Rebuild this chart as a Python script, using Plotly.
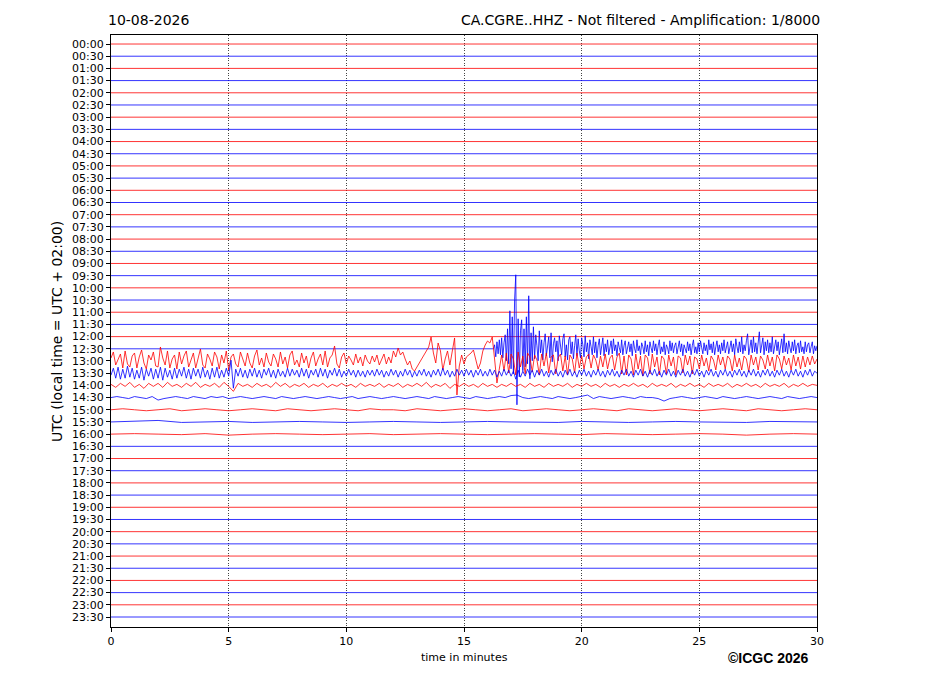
import plotly.graph_objects as go

TIME_LABELS = ["00:00", "00:30", "01:00", "01:30", "02:00", "02:30", "03:00", "03:30",
               "04:00", "04:30", "05:00", "05:30", "06:00", "06:30", "07:00", "07:30",
               "08:00", "08:30", "09:00", "09:30", "10:00", "10:30", "11:00", "11:30",
               "12:00", "12:30", "13:00", "13:30", "14:00", "14:30", "15:00", "15:30",
               "16:00", "16:30", "17:00", "17:30", "18:00", "18:30", "19:00", "19:30",
               "20:00", "20:30", "21:00", "21:30", "22:00", "22:30", "23:00", "23:30"]

FLAT = [0, 0]

# 12:30 - quiet until ~16.3 min, then the event (sampled every 0.05 min from 16.0)
B1230 = [0, 0, 0, 0, 0, 0, 4, -8, 7, -5,
         9, -6, 11, -9, 6, 14, -12, 20, -15, 38,
         -20, 32, -25, 49, 74, -56, 30, -28, 18, 29,
         -22, 20, -18, 32, -15, 53, -30, 16, -12, 22,
         -10, 14, 3, -12, 18, -4, 9, -11, 6, 15,
         -7, 2, 12, -9, 16, -13, 5, 11, -3, 8,
         -12, 13, 1, -6, 10, 15, -8, 4, -11, 9,
         12, -5, 7, -10, 3, 14, -7, 10, -2, -9,
         11, 4, -8, 13, -3, 6, -10, 9, 2, -6,
         12, -4, 7, -9, 3, 10, -6, 1, 11, -7,
         5, -3, 9, -6, 2, 8, -5, 10, -2, 4,
         -7, 7, 1, -4, 9, -6, 3, 8, -5, 2,
         7, -3, 5, -7, 8, 0, -4, 9, -2, 3,
         -6, 6, 2, -5, 8, -3, 4, -7, 7, 1,
         -4, 8, -2, 5, -6, 3, 9, -5, 2, -3,
         7, -6, 4, 1, -5, 8, -2, 6, -4, 3,
         6, -5, 2, 8, -3, 5, -7, 4, 0, -4,
         7, -2, 5, -6, 3, 9, -4, 2, -5, 6,
         -3, 8, 1, -5, 6, -2, 4, -6, 9, -1,
         5, -4, 7, -6, 2, 8, -3, 4, -5, 6,
         -2, 9, -4, 3, 7, -5, 1, 8, -3, 5,
         -6, 10, 2, -4, 7, -3, 12, -5, 4, -2,
         8, 15, -6, 5, 9, -4, 12, -3, 6, -5,
         10, 17, -4, 3, 11, -6, 7, -2, 9, -4,
         6, -3, 12, -5, 4, 9, -2, 7, -6, 3,
         10, -4, 15, -3, 6, -5, 8, 1, -4, 7,
         -2, 9, -5, 3, 6, -4, 8, -3, 2, -5,
         7, -3, 4, 6, -4, 2, 7, -5, 3, -2,
         3]

# 13:00 - every 0.1 min
R1300 = [3, 9, -4, 2, 7, -7, 10, -3, -6, 5,
         8, -7, 4, 11, -2, -8, 6, 1, 9, -5,
         -6, 14, 3, -4, 10, -7, 2, 6, -8, 9,
         -3, 5, 10, -6, 1, 8, -7, 4, 12, -4,
         -7, 7, 2, -5, 9, 4, -8, 6, -2, 10,
         -9, 4, 7, -3, -6, 9, 1, -5, 8, -2,
         -7, 5, 11, -4, 3, -6, 8, -1, -5, 7,
         2, -6, 9, -3, 4, -7, 6, 10, -4, 1,
         -6, 8, -2, 5, -7, 3, 9, -5, 2, 7,
         -4, 10, -6, 3, 6, 15, -3, -7, 4, 8,
         -3, 5, 1, -4, 7, -2, 4, -5, 6, 0,
         -3, 5, -1, 6, -4, 2, 7, -3, 4, -2,
         10, 4, 13, 6, 9, 2, -4, 0, -8, -10,
         -6, -2, 3, 6, 10, 14, 24, 8, -2, 18,
         10, -9, 2, 10, -4, 8, 23, -34, -5, 6,
         -3, 4, 6, 8, 11, 2, -8, -2, 10, 16,
         20, 18, 24, 2, -22, -8, 6, -10, 8, -12,
         7, 2, -14, 9, -6, 5, -13, 8, 4, -11,
         6, 1, -14, 7, -5, 8, -12, 4, 6, -13,
         3, 7, -10, 5, -14, 6, 2, -12, 8, -7,
         5, -8, 4, 7, -7, 6, 1, -9, 5, -6,
         7, -8, 3, 6, -9, 4, 8, -13, 5, -14,
         6, 2, -14, 7, -8, 5, -15, 6, 3, -13,
         7, -6, 4, -14, 5, 2, -13, 6, -5, 4,
         -14, 5, 3, -12, 6, -4, 5, -13, 4, 2,
         -8, 6, -5, 3, -10, 5, 1, -9, 6, -4,
         4, -8, 5, 2, -10, 6, -6, 3, -9, 5,
         2, -11, 6, -4, 4, -9, 5, 1, -8, 6,
         -5, 4, -10, 6, 2, -8, 5, -4, 3, -9,
         6, -5, 4, -8, 5, -6, 4, -4, 5, -3,
         2]

# 13:30 - every 0.1 min
B1330 = [-2, 5, -5, 6, -6, 4, -5, 7, -4, 5,
         -6, 3, -5, 6, -7, 4, -3, 5, -6, 4,
         -5, 6, -7, 5, -4, 3, -6, 5, -5, 4,
         -3, 6, -5, 4, -6, 5, -3, 4, -5, 6,
         -4, 3, -6, 5, -4, 6, -5, 3, -4, 5,
         -3, 13, -15, 4, -3, 5, -4, 3, -5, 4,
         -3, 5, -4, 3, -5, 4, -2, 5, -4, 3,
         -5, 4, -3, 2, -4, 5, -3, 4, -2, 3,
         -4, 5, -3, 4, -5, 3, -2, 4, -4, 5,
         -3, 4, -5, 3, -2, 5, -3, 4, -4, 2,
         -3, 4, -2, 3, -4, 3, -3, 2, -4, 3,
         -2, 3, -3, 4, -2, 3, -4, 2, -3, 4,
         -2, 3, -4, 2, -3, 4, -2, 3, -4, 2,
         -3, 3, -2, 4, -3, 2, -4, 3, -2, 4,
         -3, 5, -2, 3, -4, 2, -3, 4, -2, 3,
         -3, 4, -2, 3, -4, 3, -2, 4, -3, 2,
         -3, 4, -2, 3, -4, 2, -3, 4, -2, 3,
         -3, 2, -6, 3, -4, 2, -3, 4, -2, 3,
         -4, 3, -2, 4, -3, 2, -4, 3, -2, 4,
         -3, 2, -4, 3, -2, 4, -3, 2, -4, 3,
         -2, 4, -3, 2, -4, 3, -2, 4, -3, 2,
         -4, 3, -2, 4, -3, 2, -4, 3, -2, 4,
         -3, 2, -4, 3, -2, 4, -3, 2, -4, 3,
         -2, 4, -3, 2, -4, 3, -2, 4, -3, 2,
         -4, 3, -2, 4, -3, 2, -4, 3, -2, 4,
         -3, 2, -4, 3, -2, 4, -3, 2, -4, 3,
         -2, 4, -3, 2, -4, 3, -2, 4, -3, 2,
         -4, 3, -2, 4, -3, 2, -4, 3, -2, 4,
         -3, 2, -4, 3, -2, 4, -3, 2, -4, 3,
         -2, 4, -3, 2, -4, 3, -2, 4, -3, 2,
         0]

# 14:00 - every 0.2 min
R1400 = [1, -2, 2, -1, 3, -2, 1, -3, 2, -1, 2, -2, 3, -1, 1,
         -2, 2, -1, 3, -2, 1, -1, 2, -2, 3, -1, -6, 2, -1, 1,
         -2, 2, -1, 1, -2, 3, -1, 2, -2, 1, -1, 2, -2, 1, -1,
         2, -2, 1, -1, 2, -1, 1, -2, 2, -1, 1, -1, 2, -2, 1,
         -1, 2, -2, 1, -1, 2, -1, 3, -2, 1, -1, 2, -3, 1, -1,
         2, -1, 1, -2, 2, -1, 1, -2, 1, -1, 2, -1, 1, -2, 2,
         -1, 1, -2, 2, -1, 1, -1, 2, -2, 1, -1, 2, -1, 1, -2,
         2, -1, 1, -2, 1, -1, 2, -1, 1, -2, 2, -1, 1, -1, 2,
         -2, 1, -1, 2, -1, 1, -2, 2, -1, 1, -1, 2, -2, 1, -1,
         2, -1, 1, -2, 2, -1, 1, -1, 2, -2, 1, -1, 2, -1, 1,
         0]

# 14:30 - every 0.25 min
B1430 = [0, 1, 0, -1, 1, 0, -1, 1, -2.5, -1, 0, 1,
         0, -1, 1, 0, -1, 1, 0, 1, -1, 0, 1, 0,
         -1, 0, 1, 0, -1, 1, 0, -1, 0, 1, 0, -1,
         0, 1, 0, -1, 0, 1, -1, 0, 1, 0, -1, 0,
         1, 0, -1, 0, 1, 0, -1, 1, 0, -1, 0, 1,
         0, -1, 1, 0, -1, 0, 1, 0, 2, 2.5, 0, -1,
         0, 1, 0, -1, 1, 0, -1, 0, 1, 2.5, -1, 1,
         0, -1, 0, 1, 0, -1, 1, 0, 0, -1, -3.5, -1,
         0, 1, 0, -1, 0, 1, 0, -1, 1, 0, -1, 0,
         1, 0, -1, 0, 1, 0, -1, 1, 0, -1, 0, 1,
         0]

# 15:00 - every 0.5 min
R1500 = [0, 1, 0, -1, 0, 1, -1, 0, 1, 0,
         -1, 0, 1, 0, -1, 1, 0, -1, 0, 1,
         0, -1, 1, 0, 0, -1, 1, 0, -1, 0,
         1, 0, -1, 0, 1, -1, 0, 1, 0, -1,
         0, 1, 0, -1, 1, 0, -1, 0, 1, 0,
         -1, 0, 1, 0, -1, 1, 0, -1, 0, 1,
         0]

# 15:30 / 16:00 - every 1 min
B1530 = [0, 0.5, 1.5, -0.5, 0, 0.5, -0.5, 0, 0.5, 0,
         -0.5, 0, 0.5, 0, -0.5, 0, 0.5, 0, 0, -0.5,
         0.5, 0, -0.5, 0, 0.5, 0, 0, -0.5, 0.5, 0,
         0]
R1600 = [0, 0.5, 0, -0.5, 0.5, -1, 0, 0.5, 0, -0.5,
         0, 0.5, -0.5, 0, 0.5, 0, -0.5, 0, 0.5, 0,
         -0.5, 0.5, 0, -0.5, 0, 0.5, 0, -1, 0, 0.5,
         0]

# label -> (first sample in minutes, sample step in minutes, values)
ACTIVE = {
    "12:30": (16.0, 0.05, B1230),
    "13:00": (0.0, 0.1, R1300),
    "13:30": (0.0, 0.1, B1330),
    "14:00": (0.0, 0.2, R1400),
    "14:30": (0.0, 0.25, B1430),
    "15:00": (0.0, 0.5, R1500),
    "15:30": (0.0, 1.0, B1530),
    "16:00": (0.0, 1.0, R1600),
}

ROW_PX = 12.19  # one row on screen, offsets above are in pixels

fig = go.Figure()

for i, lab in enumerate(TIME_LABELS):
    color = "#ff0000" if i % 2 == 0 else "#0000ff"
    if lab in ACTIVE:
        t0, dt, vals = ACTIVE[lab]
        xs = [t0 + k * dt for k in range(len(vals))]
        ys = [-i + v / ROW_PX for v in vals]
        if t0 > 0:
            xs = [0] + xs
            ys = [-i] + ys
    else:
        xs = [0, 30]
        ys = [-i + v for v in FLAT]
    fig.add_trace(go.Scatter(x=xs, y=ys, mode="lines",
                             line=dict(color=color, width=0.8),
                             hoverinfo="skip", showlegend=False))

# page body adds 8px, so margins are pulled in by that much
fig.update_layout(
    width=927, height=696,
    margin=dict(l=103, r=118, t=27, b=77),
    plot_bgcolor="white", paper_bgcolor="white",
    font=dict(family="DejaVu Sans", size=11, color="black"),
    showlegend=False,
)

fig.update_xaxes(
    range=[0, 30], tickvals=[0, 5, 10, 15, 20, 25, 30],
    ticks="outside", ticklen=4, tickcolor="black",
    showline=True, linecolor="black", linewidth=1, mirror=True,
    showgrid=True, gridcolor="#444444", gridwidth=0.7, griddash="1px,1.5px",
    zeroline=False, tickfont=dict(size=11),
)
fig.update_yaxes(
    range=[-47.82, 0.74],
    tickvals=[-i for i in range(len(TIME_LABELS))], ticktext=TIME_LABELS,
    ticks="outside", ticklen=4, tickcolor="black",
    showline=True, linecolor="black", linewidth=1, mirror=True,
    showgrid=False, zeroline=False, tickfont=dict(size=11),
)

fig.add_annotation(text="10-08-2026", xref="paper", yref="paper",
                   x=-0.0071, y=1.0253, xanchor="left", yanchor="middle",
                   showarrow=False, font=dict(size=14))
fig.add_annotation(text="CA.CGRE..HHZ - Not filtered - Amplification: 1/8000",
                   xref="paper", yref="paper", x=1.0071, y=1.0253,
                   xanchor="right", yanchor="middle", showarrow=False,
                   font=dict(size=14))
fig.add_annotation(text="UTC (local time = UTC + 02:00)", xref="paper", yref="paper",
                   x=-0.0765, y=0.5, xanchor="center", yanchor="middle",
                   textangle=-90, showarrow=False, font=dict(size=14))
fig.add_annotation(text="time in minutes", xref="paper", yref="paper",
                   x=0.5, y=-0.0507, xanchor="center", yanchor="middle",
                   showarrow=False, font=dict(size=11))
fig.add_annotation(text="<b>©ICGC 2026</b>", xref="paper", yref="paper",
                   x=0.9915, y=-0.0524, xanchor="right", yanchor="middle",
                   showarrow=False,
                   font=dict(family="Liberation Sans, Arial", size=14))

fig.write_html("out.html")
